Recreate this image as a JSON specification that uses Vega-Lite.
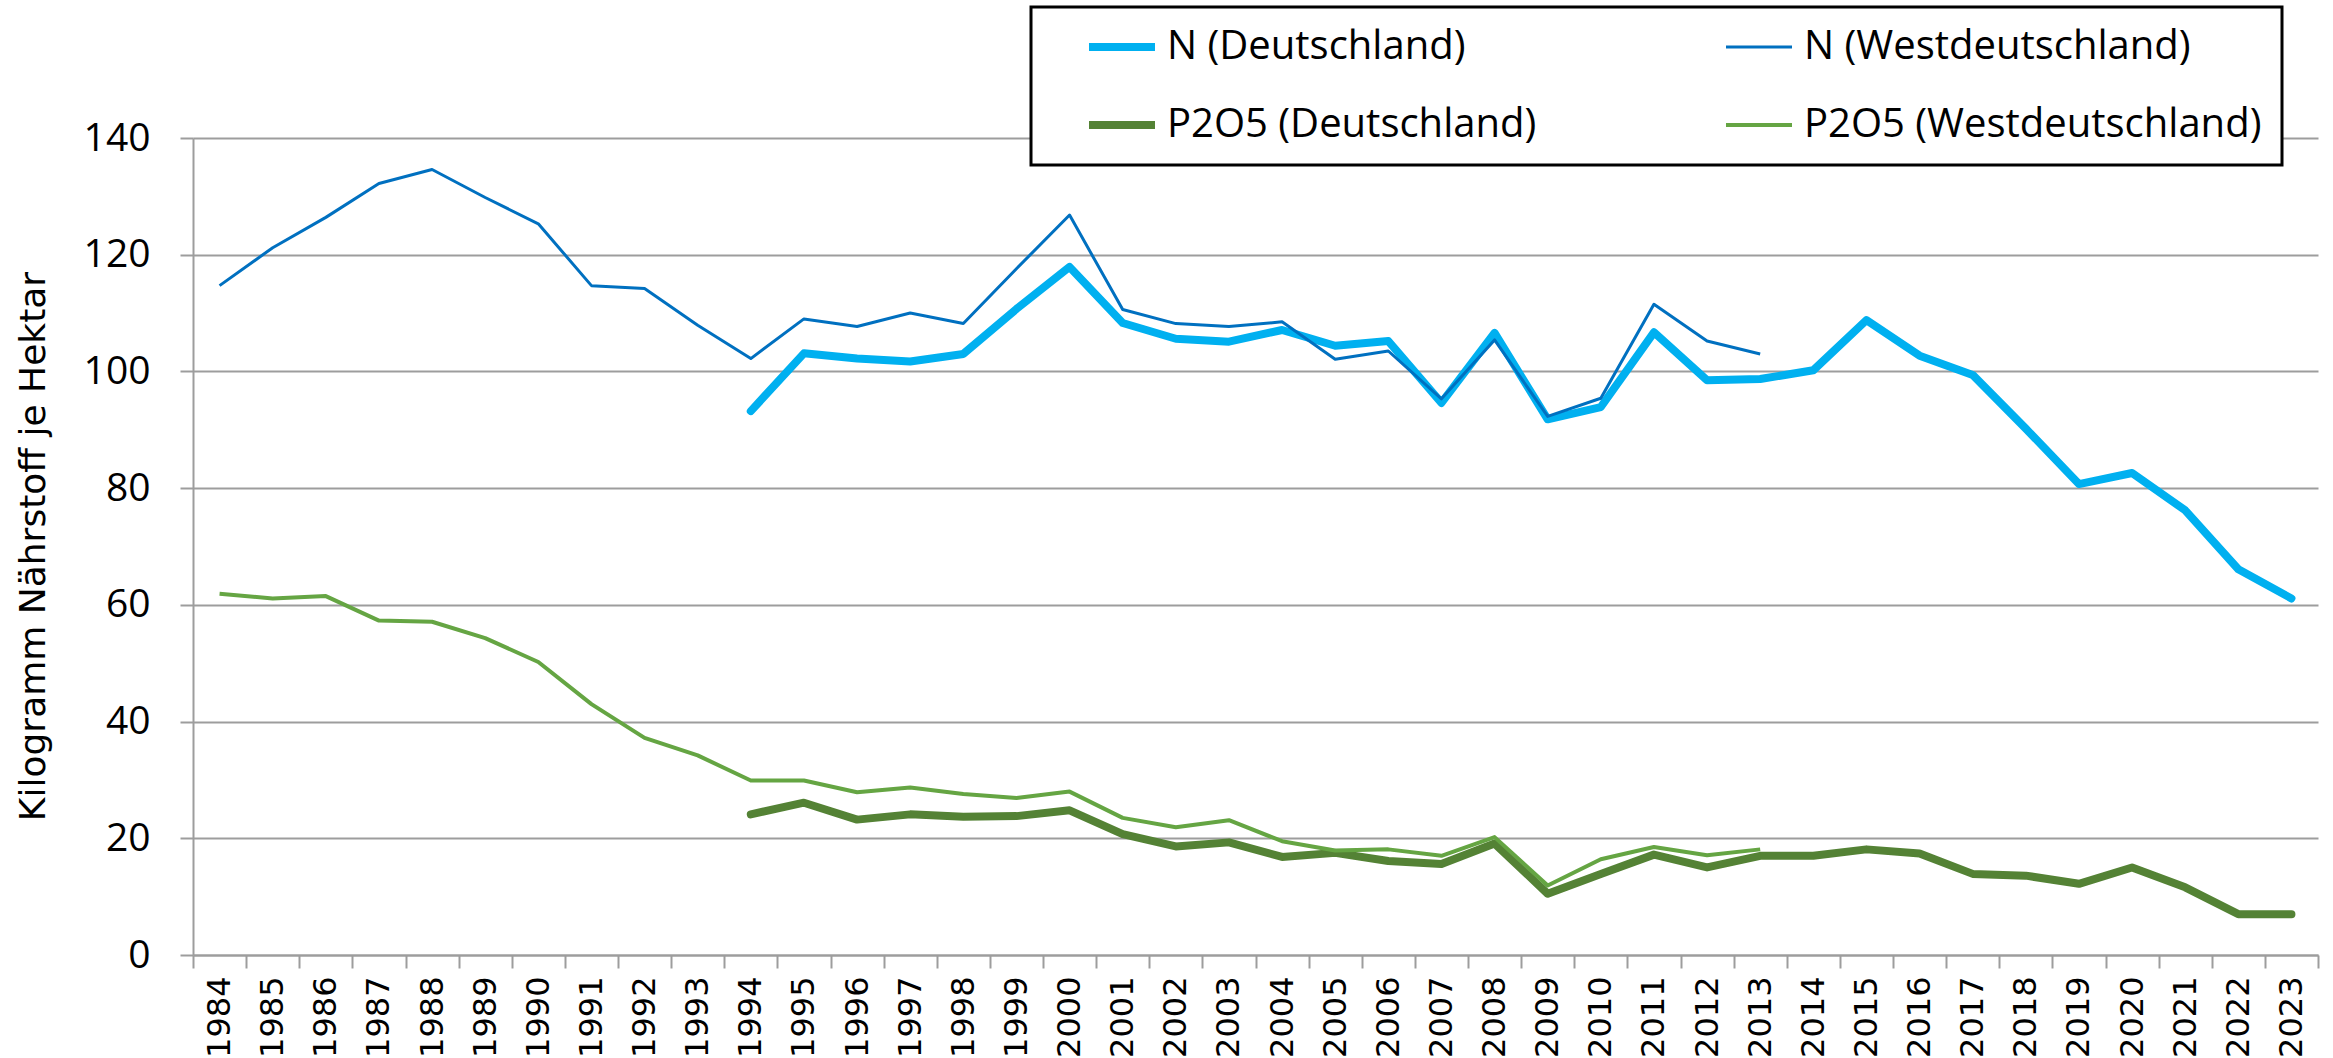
{
  "$schema": "https://vega.github.io/schema/vega-lite/v6.json",
  "width": 2125,
  "height": 817,
  "autosize": {"type": "none"},
  "padding": {"left": 193, "top": 138, "right": 15, "bottom": 103},
  "background": "white",
  "data": {
    "values": [
      {"year": "1984", "ND": null, "NW": 114.7, "PD": null, "PW": 61.9},
      {"year": "1985", "ND": null, "NW": 121.2, "PD": null, "PW": 61.1},
      {"year": "1986", "ND": null, "NW": 126.4, "PD": null, "PW": 61.5},
      {"year": "1987", "ND": null, "NW": 132.2, "PD": null, "PW": 57.3},
      {"year": "1988", "ND": null, "NW": 134.6, "PD": null, "PW": 57.1},
      {"year": "1989", "ND": null, "NW": 129.8, "PD": null, "PW": 54.3},
      {"year": "1990", "ND": null, "NW": 125.3, "PD": null, "PW": 50.2},
      {"year": "1991", "ND": null, "NW": 114.7, "PD": null, "PW": 43.0},
      {"year": "1992", "ND": null, "NW": 114.2, "PD": null, "PW": 37.2},
      {"year": "1993", "ND": null, "NW": 107.9, "PD": null, "PW": 34.2},
      {"year": "1994", "ND": 93.2, "NW": 102.2, "PD": 24.1, "PW": 29.9},
      {"year": "1995", "ND": 103.1, "NW": 109.0, "PD": 26.1, "PW": 29.9},
      {"year": "1996", "ND": 102.2, "NW": 107.7, "PD": 23.2, "PW": 27.9},
      {"year": "1997", "ND": 101.7, "NW": 110.0, "PD": 24.1, "PW": 28.7},
      {"year": "1998", "ND": 103.0, "NW": 108.2, "PD": 23.7, "PW": 27.6},
      {"year": "1999", "ND": 110.7, "NW": 117.6, "PD": 23.8, "PW": 26.9},
      {"year": "2000", "ND": 117.9, "NW": 126.8, "PD": 24.8, "PW": 28.0},
      {"year": "2001", "ND": 108.3, "NW": 110.6, "PD": 20.7, "PW": 23.5},
      {"year": "2002", "ND": 105.6, "NW": 108.2, "PD": 18.6, "PW": 21.9},
      {"year": "2003", "ND": 105.1, "NW": 107.7, "PD": 19.3, "PW": 23.1},
      {"year": "2004", "ND": 107.1, "NW": 108.5, "PD": 16.8, "PW": 19.5},
      {"year": "2005", "ND": 104.4, "NW": 102.1, "PD": 17.5, "PW": 17.9},
      {"year": "2006", "ND": 105.2, "NW": 103.5, "PD": 16.1, "PW": 18.1},
      {"year": "2007", "ND": 94.6, "NW": 95.3, "PD": 15.6, "PW": 17.0},
      {"year": "2008", "ND": 106.6, "NW": 105.4, "PD": 19.1, "PW": 20.2},
      {"year": "2009", "ND": 91.8, "NW": 92.3, "PD": 10.5, "PW": 11.9},
      {"year": "2010", "ND": 93.9, "NW": 95.4, "PD": 13.9, "PW": 16.4},
      {"year": "2011", "ND": 106.7, "NW": 111.5, "PD": 17.2, "PW": 18.5},
      {"year": "2012", "ND": 98.5, "NW": 105.2, "PD": 15.0, "PW": 17.1},
      {"year": "2013", "ND": 98.7, "NW": 103.0, "PD": 17.0, "PW": 18.1},
      {"year": "2014", "ND": 100.2, "NW": null, "PD": 17.0, "PW": null},
      {"year": "2015", "ND": 108.8, "NW": null, "PD": 18.1, "PW": null},
      {"year": "2016", "ND": 102.7, "NW": null, "PD": 17.4, "PW": null},
      {"year": "2017", "ND": 99.4, "NW": null, "PD": 13.9, "PW": null},
      {"year": "2018", "ND": 90.2, "NW": null, "PD": 13.6, "PW": null},
      {"year": "2019", "ND": 80.7, "NW": null, "PD": 12.2, "PW": null},
      {"year": "2020", "ND": 82.6, "NW": null, "PD": 15.0, "PW": null},
      {"year": "2021", "ND": 76.2, "NW": null, "PD": 11.6, "PW": null},
      {"year": "2022", "ND": 66.1, "NW": null, "PD": 7.0, "PW": null},
      {"year": "2023", "ND": 61.1, "NW": null, "PD": 7.0, "PW": null}
    ]
  },
  "transform": [
    {"fold": ["ND", "NW", "PD", "PW"], "as": ["key", "value"]},
    {"filter": "datum.value != null"},
    {"lookup": "key", "from": {"data": {"values": [
      {"key": "ND", "series": "N (Deutschland)"},
      {"key": "NW", "series": "N (Westdeutschland)"},
      {"key": "PD", "series": "P2O5 (Deutschland)"},
      {"key": "PW", "series": "P2O5 (Westdeutschland)"}
    ]}, "key": "key", "fields": ["series"]}}
  ],
  "encoding": {
    "x": {
      "field": "year",
      "type": "ordinal",
      "bandPosition": 0.5,
      "scale": {"type": "band", "paddingInner": 0, "paddingOuter": 0},
      "axis": {
        "title": null,
        "labelAngle": -90,
        "labelAlign": "right",
        "labelBaseline": "middle",
        "labelFont": "DejaVu Sans",
        "labelFontSize": 32,
        "labelColor": "#000000",
        "labelPadding": 8,
        "labelOverlap": false,
        "tickBand": "extent",
        "tickSize": 13,
        "tickColor": "#9d9d9d",
        "tickWidth": 2,
        "domainColor": "#9d9d9d",
        "domainWidth": 2,
        "grid": false
      }
    },
    "y": {
      "field": "value",
      "type": "quantitative",
      "scale": {"domain": [0, 140], "nice": false},
      "axis": {
        "title": "Kilogramm Nährstoff je Hektar",
        "titleFont": "DejaVu Sans",
        "titleFontSize": 36,
        "titleFontWeight": "normal",
        "titleColor": "#000000",
        "titleAngle": -90,
        "titleX": -160,
        "titleY": 408,
        "titleAlign": "center",
        "titleBaseline": "middle",
        "values": [0, 20, 40, 60, 80, 100, 120, 140],
        "labelFont": "Open Sans",
        "labelFontSize": 39,
        "labelColor": "#000000",
        "labelPadding": 30,
        "tickSize": 13,
        "tickColor": "#9d9d9d",
        "tickWidth": 2,
        "domainColor": "#9d9d9d",
        "domainWidth": 2,
        "gridColor": "#9d9d9d",
        "gridWidth": 2
      }
    },
    "color": {
      "field": "series",
      "type": "nominal",
      "scale": {
        "domain": ["N (Deutschland)", "P2O5 (Deutschland)", "N (Westdeutschland)", "P2O5 (Westdeutschland)"],
        "range": ["#00b0f0", "#548235", "#0070c0", "#65a543"]
      },
      "legend": {"title": null}
    },
    "strokeWidth": {
      "field": "series",
      "type": "nominal",
      "scale": {
        "type": "ordinal",
        "domain": ["N (Deutschland)", "P2O5 (Deutschland)", "N (Westdeutschland)", "P2O5 (Westdeutschland)"],
        "range": [8, 8, 3, 4]
      },
      "legend": {"title": null}
    }
  },
  "layer": [
    {
      "transform": [{"filter": {"field": "key", "oneOf": ["ND", "PD"]}}],
      "mark": {"type": "line", "strokeCap": "round", "strokeJoin": "round"}
    },
    {
      "transform": [{"filter": {"field": "key", "oneOf": ["NW", "PW"]}}],
      "mark": {"type": "line", "strokeCap": "butt", "strokeJoin": "round"}
    }
  ],
  "config": {
    "view": {"stroke": null, "fill": "white"},
    "legend": {
      "orient": "none",
      "legendX": 838,
      "legendY": -131,
      "columns": 2,
      "symbolType": "stroke",
      "symbolSize": 4356,
      "symbolOffset": 34,
      "labelFont": "Open Sans",
      "labelFontSize": 40,
      "labelColor": "#000000",
      "labelOffset": 8,
      "labelLimit": 1000,
      "columnPadding": 151,
      "rowPadding": 38,
      "clipHeight": 40,
      "padding": 20,
      "fillColor": "white",
      "strokeColor": "#000000",
      "strokeWidth": 3
    }
  }
}
